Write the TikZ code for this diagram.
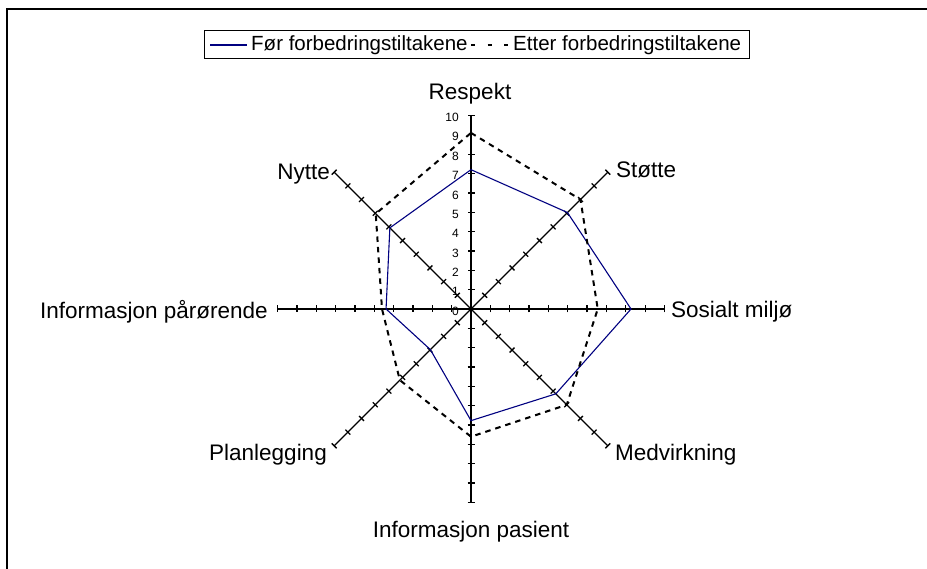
\documentclass[tikz,border=0pt]{standalone}
\usepackage{fontspec}
\setmainfont{Liberation Sans}
\definecolor{seriesA}{HTML}{000080}
\begin{document}
\begin{tikzpicture}[x=1pt,y=1pt,
  axisline/.style={black,line width=1.3pt},
  tickmark/.style={black,line width=1.3pt},
  seriesbefore/.style={seriesA,line width=1.1pt,line join=miter},
  seriesafter/.style={black,line width=2pt,dash pattern=on 5.5pt off 5pt},
  catlabel/.style={font=\fontsize{22.5}{24}\selectfont,inner sep=0pt},
  numlabel/.style={font=\fontsize{12}{13}\selectfont,inner sep=0pt,anchor=east},
  legendtext/.style={font=\fontsize{20.5}{22}\selectfont,inner sep=0pt,anchor=west}]
\useasboundingbox (0,0) rectangle (927,569);
\clip (0,0) rectangle (927,569);
% outer chart frame (runs off the right and bottom edges)
\draw[line width=1.3pt] (7,-10) -- (7,560) -- (940,560);

% legend
\node[draw=black,line width=1pt,minimum width=545pt,minimum height=28pt,inner sep=0pt] (legend) at (476.5,524) {};
\coordinate (la1) at (210,524);
\coordinate (la2) at (247,524);
\draw[seriesbefore] (la1) -- (la2);
\node[legendtext] (lt1) at (251,524) {Før forbedringstiltakene};
\coordinate (lb1) at (471,524);
\coordinate (lb2) at (508,524);
\draw[black,line width=2pt,dash pattern=on 4pt off 12.5pt] (lb1) -- (lb2);
\node[legendtext] (lt2) at (513,524) {Etter forbedringstiltakene};

% radar chart
\begin{scope}[shift={(471,260)}]
  \def\u{19.35}
  \coordinate (c) at (0,0);
  % eight spokes with crossing tick marks
  \foreach \ang in {90,45,0,-45,-90,-135,180,135}{
    \begin{scope}[rotate=\ang]
      \draw[axisline] (c) -- (10*\u,0);
      \foreach \k in {1,...,10}
        \draw[tickmark] (\k*\u,-3.5) -- (\k*\u,3.5);
    \end{scope}
  }
  % scale numbers on the vertical spoke
  \foreach \k in {0,...,10}
    \node[numlabel] (n\k) at (-12,\k*\u-2) {\k};
  % series before
  \draw[seriesbefore] (90:7.2*\u) -- (45:7.05*\u) -- (0:8.27*\u) -- (-45:6.2*\u)
    -- (-90:5.77*\u) -- (-135:2.97*\u) -- (180:4.39*\u) -- (135:5.93*\u) -- cycle;
  % series after
  \draw[seriesafter] (90:9.1*\u) -- (45:8.0*\u) -- (0:6.55*\u) -- (-45:7.0*\u)
    -- (-90:6.6*\u) -- (-135:5.2*\u) -- (180:4.6*\u) -- (135:6.96*\u) -- cycle;
\end{scope}

% category labels
\node[catlabel,anchor=base] (l1) at (470,469) {Respekt};
\node[catlabel,anchor=base west] (l2) at (616,391) {Støtte};
\node[catlabel,anchor=base west] (l3) at (671,251) {Sosialt miljø};
\node[catlabel,anchor=base west] (l4) at (615,108) {Medvirkning};
\node[catlabel,anchor=base] (l5) at (471,31) {Informasjon pasient};
\node[catlabel,anchor=base east] (l6) at (327,108) {Planlegging};
\node[catlabel,anchor=base east] (l7) at (268,250) {Informasjon pårørende};
\node[catlabel,anchor=base east] (l8) at (330,389) {Nytte};
\end{tikzpicture}
\end{document}
